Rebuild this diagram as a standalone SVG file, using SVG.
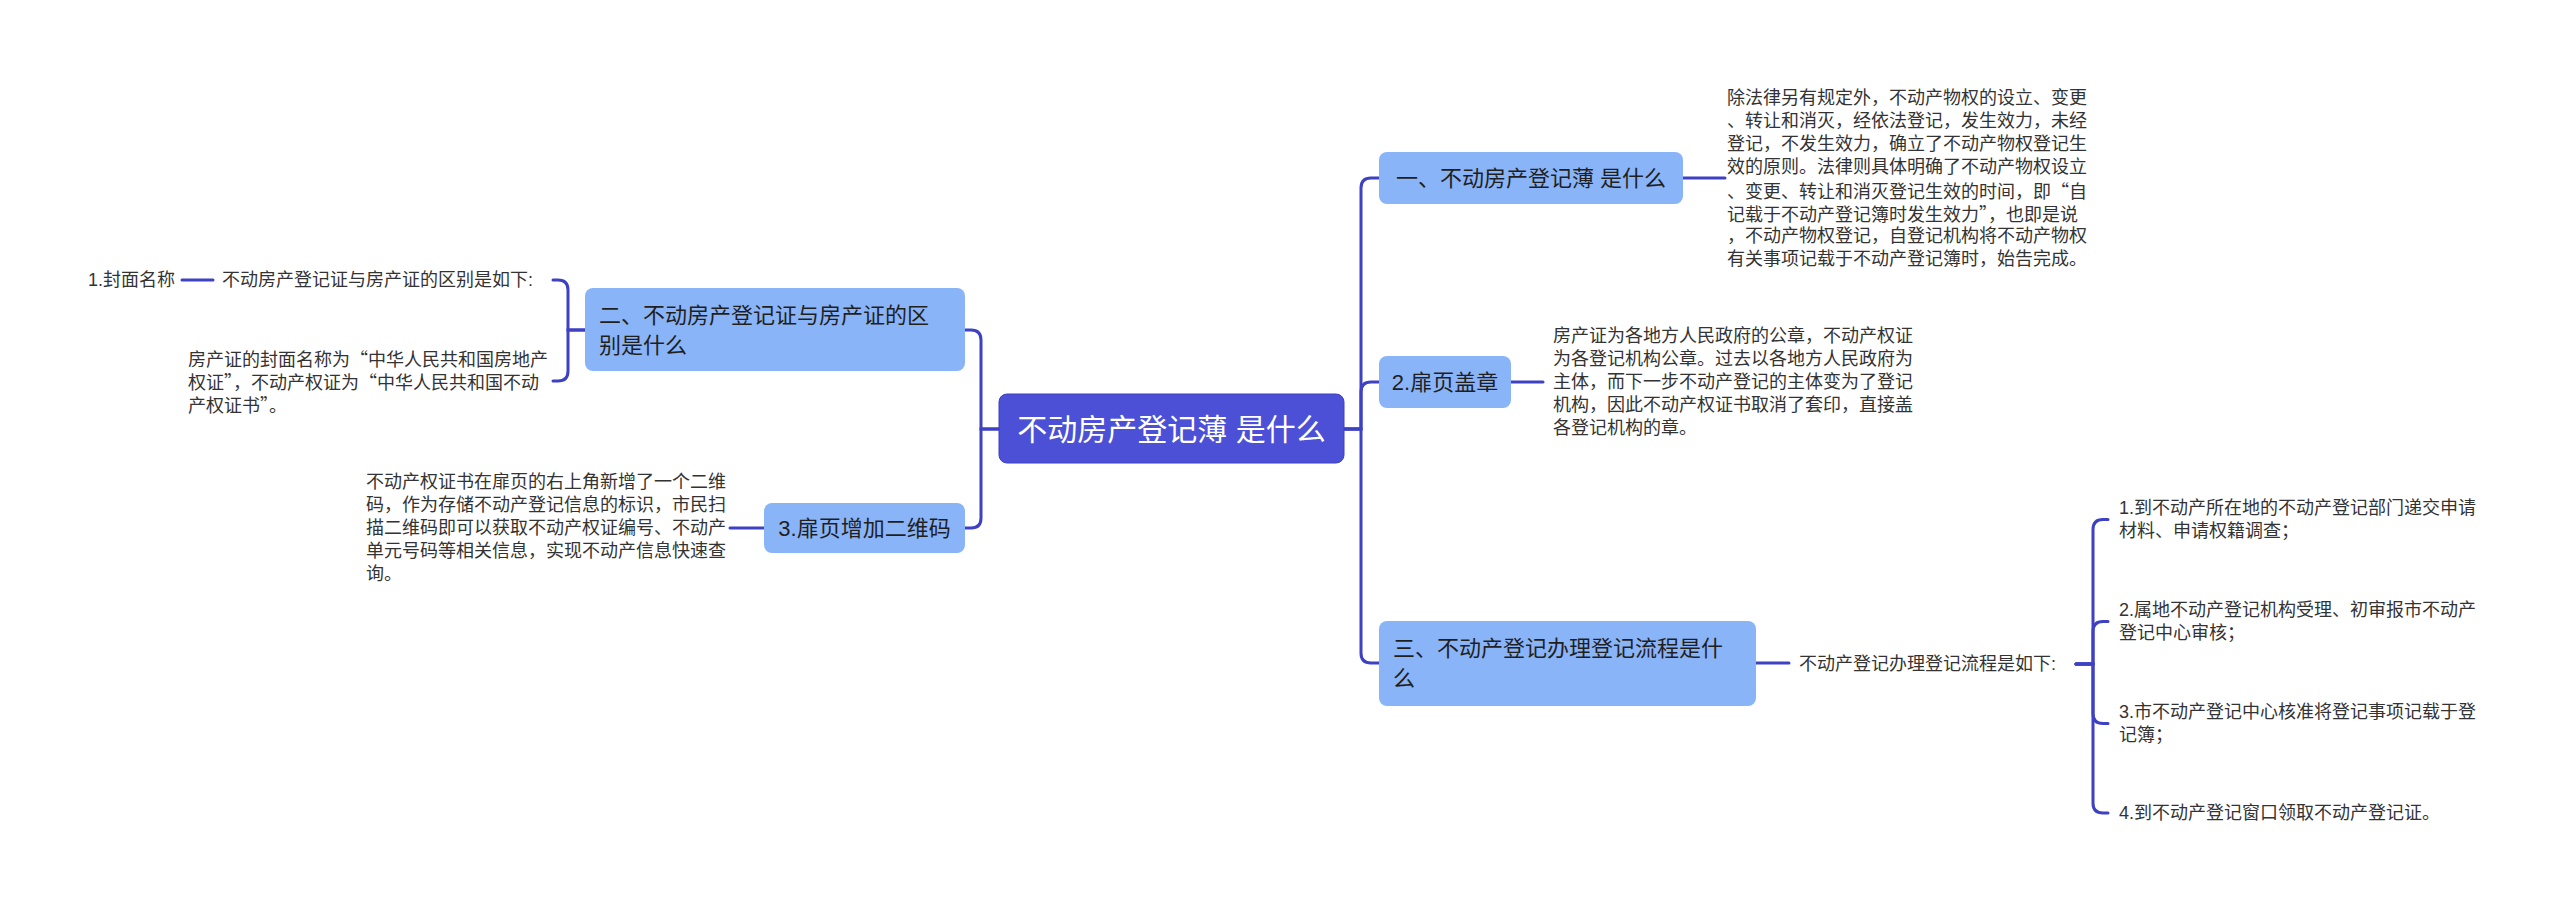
<svg xmlns="http://www.w3.org/2000/svg" width="2560" height="910" viewBox="0 0 2560 910">
<style>
text{font-family:"Liberation Sans","Noto Sans CJK SC",sans-serif;dominant-baseline:central}
.q{font-family:"Noto Sans CJK SC","Liberation Sans",sans-serif}
.root{fill:#4b50d7;stroke:#3d41c0;stroke-width:1}
.br{fill:#8ab4f8}
.rt{font-size:30px;fill:#ffffff}
.bt{font-size:22px;fill:#1f1f1f}
.dt{font-size:18px;fill:#333333}
.c{fill:none;stroke:#3d41c2;stroke-width:3;stroke-linecap:round}
</style>
<rect width="2560" height="910" fill="#ffffff"/>
<g id="connectors">
<path class="c" d="M1344,429 H1361 V188 Q1361,178 1371,178 H1379"/>
<path class="c" d="M1344,429 H1361 V392 Q1361,382 1371,382 H1379"/>
<path class="c" d="M1344,429 H1361 V653 Q1361,663 1371,663 H1379"/>
<path class="c" d="M1683,178 H1725"/>
<path class="c" d="M1511,382 H1543"/>
<path class="c" d="M1756,663 H1789"/>
<path class="c" d="M2076,664 H2093 V529.5 Q2093,519.5 2103,519.5 H2108"/>
<path class="c" d="M2076,664 H2093 V631.5 Q2093,621.5 2103,621.5 H2108"/>
<path class="c" d="M2076,664 H2093 V713.5 Q2093,723.5 2103,723.5 H2108"/>
<path class="c" d="M2076,664 H2093 V803 Q2093,813 2103,813 H2108"/>
<path class="c" d="M999,429 H981 V340 Q981,330 971,330 H965"/>
<path class="c" d="M999,429 H981 V518 Q981,528 971,528 H965"/>
<path class="c" d="M586,330 H568 V290 Q568,280 558,280 H553"/>
<path class="c" d="M586,330 H568 V371 Q568,381 558,381 H553"/>
<path class="c" d="M213,280 H182"/>
<path class="c" d="M764,528 H730"/>
</g>
<g id="root">
<rect class="root" x="999" y="394" width="345" height="69" rx="8"/>
<text class="rt" x="1171.5" y="429" text-anchor="middle">不动房产登记薄 是什么</text>
</g>
<g id="b1">
<rect class="br" x="1379" y="152" width="304" height="52" rx="8"/>
<text class="bt" x="1531" y="178" text-anchor="middle">一、不动房产登记薄 是什么</text>
</g>
<g id="b1-detail">
<text class="dt" x="1727" y="98">除法律另有规定外，不动产物权的设立、变更</text>
<text class="dt" x="1727" y="121">、转让和消灭，经依法登记，发生效力，未经</text>
<text class="dt" x="1727" y="144">登记，不发生效力，确立了不动产物权登记生</text>
<text class="dt" x="1727" y="167">效的原则。法律则具体明确了不动产物权设立</text>
<text class="dt q" x="1727" y="190">、变更、转让和消灭登记生效的时间，即“自</text>
<text class="dt q" x="1727" y="213">记载于不动产登记簿时发生效力”，也即是说</text>
<text class="dt" x="1727" y="236">，不动产物权登记，自登记机构将不动产物权</text>
<text class="dt" x="1727" y="259">有关事项记载于不动产登记簿时，始告完成。</text>
</g>
<g id="b2">
<rect class="br" x="1379" y="356" width="132" height="52" rx="8"/>
<text class="bt" x="1445" y="382" text-anchor="middle">2.扉页盖章</text>
</g>
<g id="b2-detail">
<text class="dt" x="1553" y="336">房产证为各地方人民政府的公章，不动产权证</text>
<text class="dt" x="1553" y="359">为各登记机构公章。过去以各地方人民政府为</text>
<text class="dt" x="1553" y="382">主体，而下一步不动产登记的主体变为了登记</text>
<text class="dt" x="1553" y="405">机构，因此不动产权证书取消了套印，直接盖</text>
<text class="dt" x="1553" y="428">各登记机构的章。</text>
</g>
<g id="b3">
<rect class="br" x="1379" y="621" width="377" height="85" rx="8"/>
<text class="bt" x="1393" y="648">三、不动产登记办理登记流程是什</text>
<text class="bt" x="1393" y="678">么</text>
</g>
<g id="b3-detail">
<text class="dt" x="1799" y="664">不动产登记办理登记流程是如下:</text>
</g>
<g id="b3-item1">
<text class="dt" x="2119" y="508">1.到不动产所在地的不动产登记部门递交申请</text>
<text class="dt" x="2119" y="531">材料、申请权籍调查；</text>
</g>
<g id="b3-item2">
<text class="dt" x="2119" y="610">2.属地不动产登记机构受理、初审报市不动产</text>
<text class="dt" x="2119" y="633">登记中心审核；</text>
</g>
<g id="b3-item3">
<text class="dt" x="2119" y="712">3.市不动产登记中心核准将登记事项记载于登</text>
<text class="dt" x="2119" y="735">记簿；</text>
</g>
<g id="b3-item4">
<text class="dt" x="2119" y="813">4.到不动产登记窗口领取不动产登记证。</text>
</g>
<g id="l1">
<rect class="br" x="585" y="288" width="380" height="83" rx="8"/>
<text class="bt" x="599" y="315">二、不动房产登记证与房产证的区</text>
<text class="bt" x="599" y="345">别是什么</text>
</g>
<g id="l1-child1">
<text class="dt" x="222" y="280">不动房产登记证与房产证的区别是如下:</text>
</g>
<g id="l1-child1-sub">
<text class="dt" x="88" y="280">1.封面名称</text>
</g>
<g id="l1-child2">
<text class="dt q" x="188" y="358">房产证的封面名称为“中华人民共和国房地产</text>
<text class="dt q" x="188" y="381">权证”，不动产权证为“中华人民共和国不动</text>
<text class="dt q" x="188" y="404">产权证书”。</text>
</g>
<g id="l2">
<rect class="br" x="764" y="503" width="201" height="50" rx="8"/>
<text class="bt" x="864.5" y="528" text-anchor="middle">3.扉页增加二维码</text>
</g>
<g id="l2-detail">
<text class="dt" x="366" y="482">不动产权证书在扉页的右上角新增了一个二维</text>
<text class="dt" x="366" y="505">码，作为存储不动产登记信息的标识，市民扫</text>
<text class="dt" x="366" y="528">描二维码即可以获取不动产权证编号、不动产</text>
<text class="dt" x="366" y="551">单元号码等相关信息，实现不动产信息快速查</text>
<text class="dt" x="366" y="574">询。</text>
</g>
</svg>
